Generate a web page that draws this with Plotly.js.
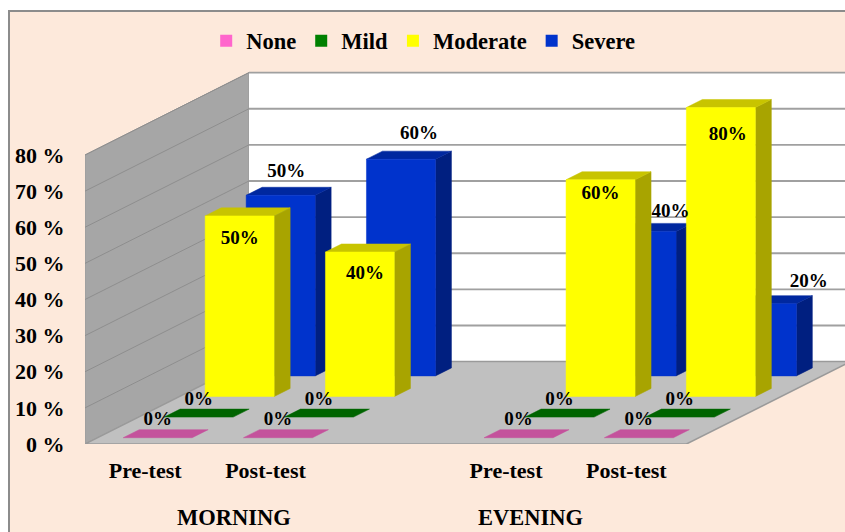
<!DOCTYPE html>
<html>
<head>
<meta charset="utf-8">
<script src="https://cdn.plot.ly/plotly-3.0.1.min.js"></script>
<style>
  html, body { margin: 0; padding: 0; background: #fff; overflow: hidden; }
  #frame { position: absolute; left: 8px; top: 10px; width: 837px; height: 522px; box-sizing: border-box;
           background: #fde9db; border-left: 2px solid #8c8c8c; border-top: 2px solid #8c8c8c; }
  #chart { position: absolute; left: 0; top: 0; width: 845px; height: 532px; }
</style>
</head>
<body>
<div id="frame"></div>
<div id="chart"></div>
<script>
// Pain level share per session
const sessions = ['Pre-test', 'Post-test', 'Pre-test', 'Post-test'];
const slots = [0, 1, 3, 4];
const none = [0, 0, 0, 0];
const mild = [0, 0, 0, 0];
const moderate = [50, 40, 60, 80];
const severe = [50, 60, 40, 20];
const periods = ['MORNING', 'EVENING'];
const periodCentres = [1.235, 3.7];
const axisTicks = [0, 10, 20, 30, 40, 50, 60, 70, 80];

// Oblique projection: one row of depth moves a point right and up
const SLOT_PX = 120.3, UNIT_PX = 3.6125;
const DEPTH_X = 41 / SLOT_PX, DEPTH_Y = 20.6 / UNIT_PX;
const ROWS = 4, BAR_HALF = 34.5 / SLOT_PX, BAR_GAP = 0.305, BAR_DEPTH = 0.39;
const projX = (x, d) => x + d * DEPTH_X;
const projY = (v, d) => v + d * DEPTH_Y;
const pxX = p => p / SLOT_PX, pxY = p => p / UNIT_PX;

function poly(corners, color, extra) {
  return Object.assign({
    type: 'scatter', mode: 'lines', fill: 'toself', fillcolor: color,
    x: corners.map(c => c === null ? null : projX(c[0], c[1])),
    y: corners.map(c => c === null ? null : projY(c[2], c[1])),
    line: { color: color, width: 0.5 }, hoverinfo: 'skip', showlegend: false
  }, extra || {});
}

const traces = [];
const XMAX = 5;

// Walls and floor
traces.push(poly([[0,0,0],[0,ROWS,0],[0,ROWS,80],[0,0,80],[0,0,0]], '#a6a6a6', {line:{color:'#999999',width:1}}));
traces.push(poly([[0,ROWS,0],[XMAX,ROWS,0],[XMAX,ROWS,80],[0,ROWS,80],[0,ROWS,0]], '#ffffff', {line:{color:'rgba(0,0,0,0)',width:0}}));
traces.push(poly([[0,0,0],[XMAX,0,0],[XMAX,ROWS,0],[0,ROWS,0],[0,0,0]], '#c0c0c0', {line:{color:'#9a9a9a',width:1.5}}));

// Gridlines run along the left wall, then across the back wall
axisTicks.slice(1).forEach(t => {
  traces.push({ type:'scatter', mode:'lines', hoverinfo:'skip', showlegend:false,
    x:[projX(0,0),projX(0,ROWS)], y:[projY(t,0),projY(t,ROWS)], line:{color:'#8e8e8e',width:1} });
  traces.push({ type:'scatter', mode:'lines', hoverinfo:'skip', showlegend:false,
    x:[projX(0,ROWS),projX(XMAX,ROWS)], y:[projY(t,ROWS),projY(t,ROWS)], line:{color:'#a0a0a0',width:1.8} });
});

// Bars, back row first so nearer rows cover them
const series = [
  { name:'Severe',   values:severe,   row:3, front:'#0033cc', side:'#001f80', top:'#00289f' },
  { name:'Moderate', values:moderate, row:2, front:'#ffff00', side:'#a8a400', top:'#c8c400' },
  { name:'Mild',     values:mild,     row:1, front:'#008000', side:'#005000', top:'#006400' },
  { name:'None',     values:none,     row:0, front:'#ff66cc', side:'#a04080', top:'#c4529c' }
];
series.forEach(s => {
  const d0 = s.row + BAR_GAP, d1 = d0 + BAR_DEPTH;
  const front = [], side = [], top = [];
  slots.forEach((slot, i) => {
    const v = s.values[i], l = slot + 0.5 - BAR_HALF, r = slot + 0.5 + BAR_HALF;
    top.push([l,d0,v],[r,d0,v],[r,d1,v],[l,d1,v],[l,d0,v],null);
    if (v > 0) {
      front.push([l,d0,0],[r,d0,0],[r,d0,v],[l,d0,v],[l,d0,0],null);
      side.push([r,d0,0],[r,d1,0],[r,d1,v],[r,d0,v],[r,d0,0],null);
    }
  });
  if (side.length) traces.push(poly(side, s.side));
  traces.push(poly(top, s.top));
  if (front.length) traces.push(poly(front, s.front));
});

// Value labels, each nudged from its bar's reference point by a pixel offset
const labelNudges = {
  Severe:   [[5.5, 23], [18, 25], [29, 19], [47, 21]],
  Moderate: [[0, -23], [5, -22], [0, -14], [7, -28]],
  Mild:     [[0, 17], [0, 17], [0, 17], [0, 17]],
  None:     [[0, 17], [0, 17], [0, 17], [0, 17]]
};
series.slice().reverse().forEach(s => {
  const d0 = s.row + BAR_GAP;
  traces.push({
    type:'scatter', mode:'text', hoverinfo:'skip', showlegend:false,
    x: slots.map((slot, i) => projX(slot + 0.5, d0) + pxX(labelNudges[s.name][i][0])),
    y: s.values.map((v, i) => projY(v, d0) + pxY(labelNudges[s.name][i][1])),
    text: s.values.map(v => v + '%'),
    textposition: 'middle center',
    textfont: { family:'"Liberation Serif", serif', size:19, color:'#000000', weight:'bold' }
  });
});

// Legend keys
[['None','#ff66cc'],['Mild','#008000'],['Moderate','#ffff00'],['Severe','#0033cc']].forEach(k => {
  traces.push({ type:'scatter', mode:'markers', name:k[0], x:[null], y:[null],
    marker:{ symbol:'square', size:12, color:k[1] }, hoverinfo:'skip' });
});

const layout = {
  width: 845, height: 532,
  margin: { l:85, r:0, t:0, b:88, pad:0 },
  paper_bgcolor:'rgba(0,0,0,0)', plot_bgcolor:'rgba(0,0,0,0)',
  font: { family:'"Liberation Serif", serif', color:'#000000' },
  showlegend: true,
  legend: {
    orientation:'h', x:0.445, xanchor:'center', y:1.0 - 41/444, yanchor:'middle',
    bgcolor:'rgba(0,0,0,0)', traceorder:'normal',
    font:{ family:'"Liberation Serif", serif', size:22.5, color:'#000000', weight:'bold' }
  },
  xaxis: {
    range:[0, 760/SLOT_PX], showgrid:false, zeroline:false, showline:false, fixedrange:true,
    tickmode:'array', tickvals:slots.map(s => s + 0.5), ticktext:sessions,
    ticks:'outside', ticklen:7, tickcolor:'rgba(0,0,0,0)',
    tickfont:{ family:'"Liberation Serif", serif', size:22, color:'#000000', weight:'bold' }
  },
  yaxis: {
    range:[0, 444/UNIT_PX], showgrid:false, zeroline:false, showline:false, fixedrange:true,
    tickmode:'array', tickvals:axisTicks, ticktext:axisTicks.map(t => t + ' %'),
    ticks:'outside', ticklen:15, tickcolor:'rgba(0,0,0,0)',
    tickfont:{ family:'"Liberation Serif", serif', size:22, color:'#000000', weight:'bold' }
  },
  annotations: periods.map((p, i) => ({
    text:p, xref:'x', yref:'paper', x:periodCentres[i], y:-73/444, yanchor:'middle', xanchor:'center',
    showarrow:false, font:{ family:'"Liberation Serif", serif', size:22.5, color:'#000000', weight:'bold' }
  }))
};

Plotly.newPlot('chart', traces, layout, { displayModeBar:false, staticPlot:true });
</script>
</body>
</html>
